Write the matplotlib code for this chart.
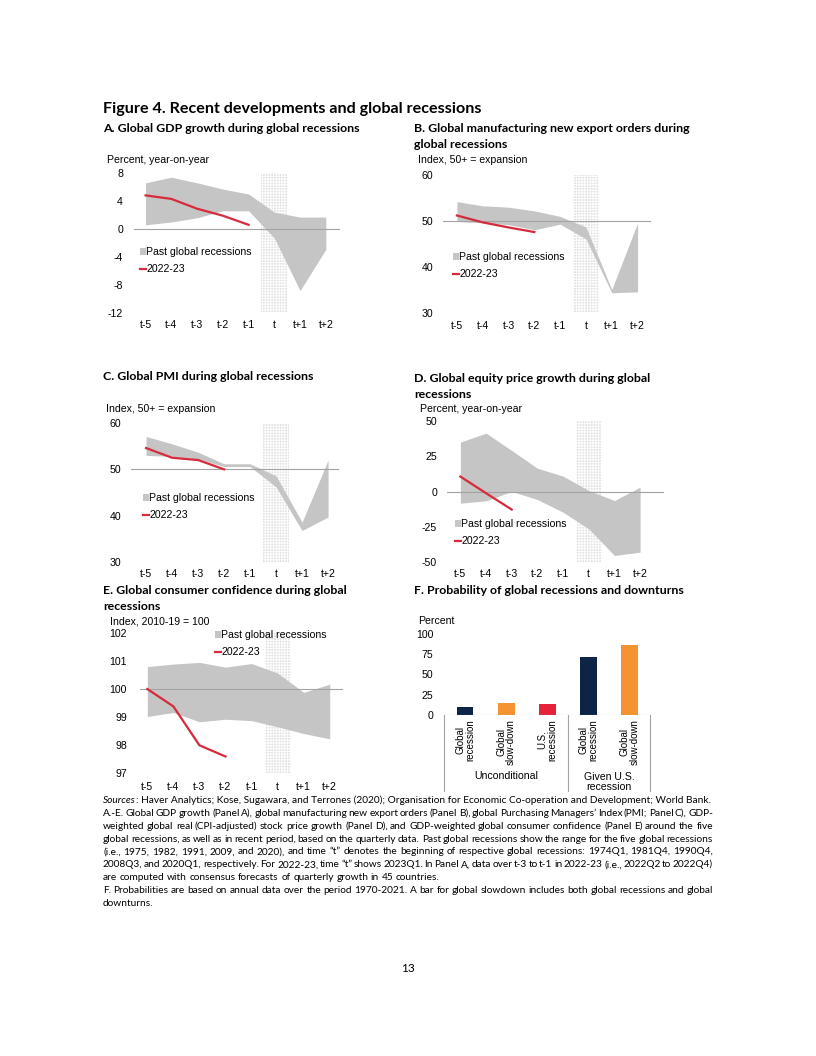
import matplotlib
matplotlib.use('Agg')
import numpy as np
import matplotlib.pyplot as plt
from matplotlib.patches import Patch
from matplotlib.lines import Line2D

# ---- data ----
periods = ['t-5', 't-4', 't-3', 't-2', 't-1', 't', 't+1', 't+2']
past_label = 'Past global recessions'
recent_label = '2022-23'

gdp_hi = [6.6, 7.4, 6.6, 5.7, 5.0, 2.4, 1.7, 1.7]
gdp_lo = [0.6, 1.0, 1.6, 2.6, 2.6, -1.3, -8.8, -2.9]
gdp_now = [4.8, 4.3, 2.9, 1.9, 0.6]

exp_hi = [54.2, 53.3, 53.0, 52.2, 51.0, 48.7, 35.1, 49.6]
exp_lo = [49.9, 49.6, 49.2, 48.1, 49.3, 46.1, 34.4, 34.6]
exp_now = [51.2, 49.7, 48.6, 47.6]

pmi_hi = [57.1, 55.5, 53.7, 51.2, 51.2, 48.6, 38.6, 52.0]
pmi_lo = [53.0, 52.8, 52.2, 50.6, 50.6, 46.2, 36.8, 39.7]
pmi_now = [54.6, 52.5, 52.0, 50.0]

eq_hi = [35.0, 41.4, 29.1, 16.5, 10.9, 0.7, -6.4, 3.1]
eq_lo = [-8.3, -6.6, 0.0, -5.7, -14.7, -26.5, -45.4, -43.0]
eq_now = [10.6, -1.2, -12.8]

cc_hi = [100.80, 100.89, 100.95, 100.78, 100.91, 100.57, 99.88, 100.17]
cc_lo = [99.02, 99.16, 98.83, 98.92, 98.87, 98.65, 98.41, 98.22]
cc_now = [100.0, 99.38, 97.99, 97.59]

prob_labels = ['Global\nrecession', 'Global\nslow-down', 'U.S.\nrecession',
               'Global\nrecession', 'Global\nslow-down']
prob_values = [10, 15, 14, 71, 86]
prob_groups = ['Unconditional', 'Given U.S.\nrecession']

fig_title = 'Figure 4. Recent developments and global recessions'
panel_titles = {
    'A': ['A. Global GDP growth during global recessions'],
    'B': ['B. Global manufacturing new export orders during', 'global recessions'],
    'C': ['C. Global PMI during global recessions'],
    'D': ['D. Global equity price growth during global', 'recessions'],
    'E': ['E. Global consumer confidence during global', 'recessions'],
    'F': ['F. Probability of global recessions and downturns'],
}

note_lines = [
    ('A.-E. Global GDP growth (Panel A), global manufacturing new export orders (Panel B), '
     'global Purchasing Managers\u2019 Index (PMI; Panel C), GDP-', True),
    ('weighted global real (CPI-adjusted) stock price growth (Panel D), and GDP-weighted global '
     'consumer confidence (Panel E) around the five', True),
    ('global recessions, as well as in recent period, based on the quarterly data. Past global '
     'recessions show the range for the five global recessions', True),
    ('(i.e., 1975, 1982, 1991, 2009, and 2020), and time \u201ct\u201d denotes the beginning of '
     'respective global recessions: 1974Q1, 1981Q4, 1990Q4,', True),
    ('2008Q3, and 2020Q1, respectively. For 2022-23, time \u201ct\u201d shows 2023Q1. In Panel A, '
     'data over t-3 to t-1 in 2022-23 (i.e., 2022Q2 to 2022Q4)', True),
    ('are computed with consensus forecasts of quarterly growth in 45 countries.', False),
    ('F. Probabilities are based on annual data over the period 1970-2021. A bar for global '
     'slowdown includes both global recessions and global', True),
    ('downturns.', False),
]
sources_text = ('Haver Analytics; Kose, Sugawara, and Terrones (2020); Organisation for Economic '
                'Co-operation and Development; World Bank.')

# ---- style ----
plt.rcParams['font.family'] = 'Liberation Sans'
plt.rcParams['axes.unicode_minus'] = False
plt.rcParams['hatch.linewidth'] = 0.7
calibri = 'Lato'
red = '#d52b3c'
band_gray = '#c5c5c5'
ref_gray = '#a3a3a3'
bar_colors = ['#0c2445', '#f4932f', '#e5223a', '#0c2445', '#f4932f']
fs = 7.6

W, H = 816, 1056
fig = plt.figure(figsize=(W / 100, H / 100), dpi=100)
renderer = fig.canvas.get_renderer()


def fy(y):
    return 1 - y / H


def add_box(x0, y0, x1, y1):
    return fig.add_axes([x0 / W, fy(y1), (x1 - x0) / W, (y1 - y0) / H])


def text_width(s, size, **kw):
    t = fig.text(0, 0, s, fontsize=size, **kw)
    w = t.get_window_extent(renderer).width
    t.remove()
    return w


def fit_size(s, width, **kw):
    return 10 * width / text_width(s, 10, **kw)


def range_panel(box, xlim, ylim, yticks, ref, hi, lo, now, unit, unit_xy, leg_xy,
                ypad=10, xpad=7):
    ax = add_box(*box)
    x = np.arange(len(periods))
    ax.axvspan(4.5, 5.5, facecolor='#e2e2e2', edgecolor='white', hatch='++++++',
               lw=0, zorder=1)
    ax.fill_between(x, lo, hi, color=band_gray, lw=0, zorder=2)
    ax.axhline(ref, color=ref_gray, lw=0.8, zorder=3)
    ax.plot(x[:len(now)], now, color=red, lw=1.6, zorder=4)
    ax.set_xlim(*xlim)
    ax.set_ylim(*ylim)
    ax.set_xticks(x, periods)
    ax.set_yticks(yticks)
    ax.tick_params(length=0, labelsize=fs)
    ax.tick_params(axis='y', pad=ypad * 0.72)
    ax.tick_params(axis='x', pad=xpad * 0.72)
    for s in ax.spines.values():
        s.set_visible(False)
    ax.patch.set_visible(False)
    fig.text(unit_xy[0] / W, fy(unit_xy[1]), unit, fontsize=fs, va='center')
    handles = [Patch(facecolor=band_gray, lw=0), Line2D([], [], color=red, lw=1.6)]
    ax.legend(handles, [past_label, recent_label], loc='upper left',
              bbox_to_anchor=(leg_xy[0] / W, fy(leg_xy[1])), bbox_transform=fig.transFigure,
              frameon=False, fontsize=fs, handlelength=0.55, handleheight=0.6,
              handletextpad=0.05, labelspacing=0.7, borderpad=0, borderaxespad=0)
    return ax


# ---- titles ----
big = fit_size(fig_title, 381, family=calibri, weight='bold')
fig.text(103 / W, fy(109), fig_title, fontsize=big, family=calibri, weight='bold', va='center')
tsize = fit_size(panel_titles['A'][0], 257, family=calibri, weight='bold')
title_pos = {'A': (103, 129), 'B': (414, 129), 'C': (103, 377), 'D': (414, 378),
             'E': (103, 590), 'F': (414, 590)}
for key, (tx, ty) in title_pos.items():
    for i, line in enumerate(panel_titles[key]):
        fig.text(tx / W, fy(ty + 16 * i), line, fontsize=tsize, family=calibri,
                 weight='bold', va='center')

# ---- panels A-E ----
range_panel((134, 173, 340, 313), (-0.45, 7.55), (-12, 8), [-12, -8, -4, 0, 4, 8], 0,
            gdp_hi, gdp_lo, gdp_now, 'Percent, year-on-year', (107, 160), (140, 247), ypad=11, xpad=7)
range_panel((443, 175, 651, 313), (-0.54, 7.52), (30, 60), [30, 40, 50, 60], 50,
            exp_hi, exp_lo, exp_now, 'Index, 50+ = expansion', (418, 160), (453, 252), xpad=8)
range_panel((131, 423, 339, 562), (-0.58, 7.42), (30, 60), [30, 40, 50, 60], 50,
            pmi_hi, pmi_lo, pmi_now, 'Index, 50+ = expansion', (106, 409), (143, 493), xpad=7)
range_panel((447, 421, 664, 562), (-0.52, 7.93), (-50, 50), [-50, -25, 0, 25, 50], 0,
            eq_hi, eq_lo, eq_now, 'Percent, year-on-year', (420, 409), (455, 519), xpad=7)
range_panel((140, 633, 343, 773), (-0.28, 7.51), (97, 102), [97, 98, 99, 100, 101, 102], 100,
            cc_hi, cc_lo, cc_now, 'Index, 2010-19 = 100', (110, 621), (215, 630), ypad=13, xpad=9)

# ---- panel F ----
axf = add_box(444.5, 634, 650, 715)
xb = np.arange(len(prob_values))
axf.bar(xb, prob_values, width=0.41, color=bar_colors, zorder=2)
axf.set_xlim(-0.5, 4.5)
axf.set_ylim(0, 100)
axf.set_yticks([0, 25, 50, 75, 100])
axf.set_xticks([])
axf.tick_params(length=0, labelsize=fs, pad=11 * 0.72)
for s in axf.spines.values():
    s.set_visible(False)
axf.patch.set_visible(False)
axf.axhline(0, color=ref_gray, lw=0.8, zorder=3)
trans = axf.get_xaxis_transform()


def ay(y):
    return (715 - y) / 81


for i, lbl in enumerate(prob_labels):
    axf.text(i, ay(719), lbl, rotation=90, ha='center', va='top', multialignment='center',
             transform=trans, fontsize=7.0, linespacing=1.0)
for xv in [-0.5, 2.5, 4.5]:
    axf.plot([xv, xv], [0, ay(791)], transform=trans, clip_on=False, color=ref_gray, lw=0.8)
axf.text(1, ay(776), prob_groups[0], transform=trans, ha='center', va='center', fontsize=fs)
axf.text(3.5, ay(782), prob_groups[1], transform=trans, ha='center', va='center', fontsize=fs,
         linespacing=1.1)
fig.text(418 / W, fy(621), 'Percent', fontsize=fs, va='center')

# ---- notes ----
nsize = fit_size('Sources: ' + sources_text, 609, family=calibri)
x_left, x_right = 103, 713
base0, step = 803, 12.85

fig.text(x_left / W, fy(base0), 'Sources', fontsize=nsize, family=calibri,
         style='italic', va='baseline')
sw = text_width('Sources', nsize, family=calibri, style='italic')
fig.text((x_left + sw) / W, fy(base0), ': ' + sources_text, fontsize=nsize, family=calibri,
         va='baseline')

space_w = text_width('a a', nsize, family=calibri) - text_width('aa', nsize, family=calibri)

for k, (line, justify) in enumerate(note_lines):
    y = base0 + step * (k + 1)
    words = line.split(' ')
    widths = [text_width(w, nsize, family=calibri) for w in words]
    gap = (x_right - x_left - sum(widths)) / (len(words) - 1) if justify else space_w
    pos = x_left
    for w, wd in zip(words, widths):
        fig.text(pos / W, fy(y), w, fontsize=nsize, family=calibri, va='baseline')
        pos += wd + gap

fig.text(408 / W, fy(969), '13', fontsize=8.5, family=calibri, ha='center', va='center')

fig.savefig('out.png', dpi=100)
